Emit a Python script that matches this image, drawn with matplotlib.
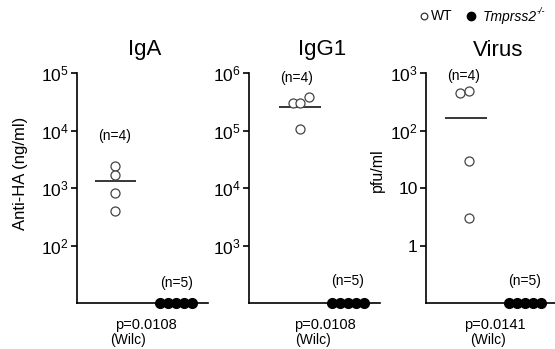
import matplotlib
matplotlib.use("Agg")
import matplotlib.pyplot as plt
import matplotlib.ticker as mticker
from matplotlib.lines import Line2D

plt.rcParams['font.family'] = ['Liberation Sans', 'DejaVu Sans']
plt.rcParams['mathtext.fontset'] = 'custom'
plt.rcParams['mathtext.rm'] = 'Liberation Sans'
plt.rcParams['mathtext.it'] = 'Liberation Sans:italic'

# data (KO values sit at the detection limit = axis bottom)
iga_wt = [2400, 1670, 820, 400]
iga_ko = [10, 10, 10, 10, 10]
iga_median = 1320
igg1_wt = [300000, 300000, 385000, 105000]
igg1_ko = [100, 100, 100, 100, 100]
igg1_median = 260000
virus_wt = [450, 480, 30, 3]
virus_ko = [0.1, 0.1, 0.1, 0.1, 0.1]
virus_median = 165

titles = ['IgA', 'IgG1', 'Virus']
n_wt, n_ko = '(n=4)', '(n=5)'
pvals = ['p=0.0108', 'p=0.0108', 'p=0.0141']
ylims = [(10, 1e5), (100, 1e6), (0.1, 1000)]
virus_ticks = [1, 10, 100, 1000]
virus_ticklabels = ['1', '10', r'$10^2$', r'$10^3$']

fig = plt.figure(figsize=(5.55, 3.49), dpi=100)
W, H = 555, 349

def add_ax(left, right, top=73, bottom=303):
    return fig.add_axes([left / W, (H - bottom) / H, (right - left) / W, (bottom - top) / H])

axes = [add_ax(77, 208), add_ax(249, 380), add_ax(426, 555)]

# per-panel layout (axes fractions)
wt_x = [0.29, 0.39, 0.33]
wt_dx = [[0, 0, 0, 0], [-0.053, 0.0, 0.069, 0.0], [-0.07, 0.0, 0.0, 0.0]]
ko_x = [0.756, 0.756, 0.767]
med_span = [(0.137, 0.45), (0.23, 0.55), (0.15, 0.475)]
nwt_pos = [(0.29, 0.726), (0.366, 0.978), (0.295, 0.987)]
nko_pos = [(0.763, 0.087), (0.756, 0.096), (0.767, 0.096)]
p_x = [0.527, 0.58, 0.535]
wilc_x = [0.39, 0.49, 0.48]
title_x = [0.52, 0.557, 0.558]

wts = [iga_wt, igg1_wt, virus_wt]
kos = [iga_ko, igg1_ko, virus_ko]
meds = [iga_median, igg1_median, virus_median]

for i, ax in enumerate(axes):
    ax.set_yscale('log')
    ax.set_ylim(*ylims[i])
    ax.set_xlim(0, 1)
    xs = [wt_x[i] + d for d in wt_dx[i]]
    ax.plot(xs, wts[i], 'o', ms=6.5, mfc='white', mec='#444444', mew=0.9, clip_on=False, zorder=3)
    kx = [ko_x[i] + (k - 2) * 0.062 for k in range(len(kos[i]))]
    ax.plot(kx, kos[i], 'o', ms=7, mfc='black', mec='black', clip_on=False, zorder=4)
    ax.hlines(meds[i], med_span[i][0], med_span[i][1], color='black', lw=1.1)

    for s in ['top', 'right']:
        ax.spines[s].set_visible(False)
    ax.spines['left'].set_linewidth(1.2)
    ax.spines['bottom'].set_linewidth(1.2)
    ax.set_xticks([])
    ax.yaxis.set_minor_locator(mticker.NullLocator())
    ax.tick_params(axis='y', length=4, width=1.2, labelsize=12.5, pad=2)

    ax.text(title_x[i], 1.1, titles[i], transform=ax.transAxes, ha='center', va='center', fontsize=16)
    ax.text(*nwt_pos[i], n_wt, transform=ax.transAxes, ha='center', va='center', fontsize=10)
    ax.text(*nko_pos[i], n_ko, transform=ax.transAxes, ha='center', va='center', fontsize=10)
    ax.text(p_x[i], -0.096, pvals[i], transform=ax.transAxes, ha='center', va='center', fontsize=10.5)
    ax.text(wilc_x[i], -0.161, '(Wilc)', transform=ax.transAxes, ha='center', va='center', fontsize=10)

axes[0].set_yticks([1e2, 1e3, 1e4, 1e5])
axes[1].set_yticks([1e3, 1e4, 1e5, 1e6])
axes[2].set_yticks(virus_ticks)
axes[2].yaxis.set_major_formatter(mticker.FixedFormatter(virus_ticklabels))

axes[0].text(-0.435, 0.565, 'Anti-HA (ng/ml)', transform=axes[0].transAxes, rotation=90,
             ha='center', va='center', fontsize=12)
axes[2].text(-0.38, 0.578, 'pfu/ml', transform=axes[2].transAxes, rotation=90,
             ha='center', va='center', fontsize=11.5)

# legend drawn in figure pixels
fig.add_artist(Line2D([424 / W], [1 - 16 / H], ls='', marker='o', ms=4.8, mfc='white',
                      mec='#333333', mew=0.9, transform=fig.transFigure))
fig.text(431 / W, 1 - 16.5 / H, 'WT', ha='left', va='center', fontsize=10)
fig.add_artist(Line2D([471 / W], [1 - 15.5 / H], ls='', marker='o', ms=6, mfc='black',
                      mec='black', transform=fig.transFigure))
fig.text(483 / W, 1 - 16.5 / H, 'Tmprss2', ha='left', va='center',
         fontsize=10, fontstyle='italic')
fig.text(537 / W, 1 - 12 / H, '-/-', ha='left', va='center', fontsize=6.5, fontstyle='italic')

fig.savefig('out.png', dpi=100)
